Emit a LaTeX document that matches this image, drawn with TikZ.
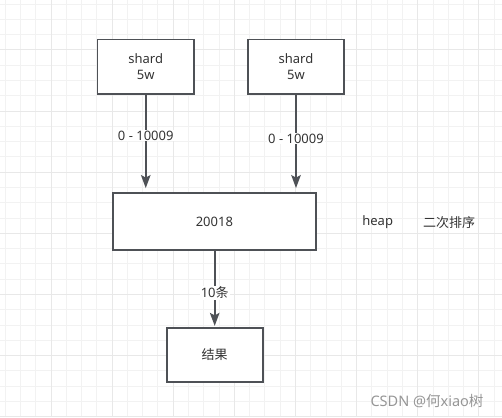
\documentclass[tikz,border=0pt]{standalone}
\usepackage{fontspec}
\setmainfont{Noto Sans}
\newfontfamily\cjk{Noto Sans CJK SC}
\usetikzlibrary{arrows.meta}
\definecolor{edgecol}{RGB}{78,81,86}
\definecolor{txtcol}{RGB}{51,51,51}
\definecolor{gridminor}{RGB}{242,242,242}
\definecolor{gridmajor}{RGB}{232,232,232}
\definecolor{wmcol}{RGB}{150,150,150}
\tikzset{
  box/.style={draw=edgecol, line width=1.8pt, fill=white, rectangle, inner sep=0pt,
    text=txtcol, font=\fontsize{13}{16}\selectfont, align=center},
  arr/.style={draw=edgecol, line width=1.8pt, -{Stealth[length=13pt,width=9.5pt,inset=2.5pt]}},
  lbl/.style={fill=white, text=txtcol, font=\fontsize{13}{16}\selectfont, inner sep=1pt},
  plain/.style={text=txtcol, font=\fontsize{13}{16}\selectfont, inner sep=0pt},
}
\begin{document}
\begin{tikzpicture}[x=1pt,y=-1pt]
\useasboundingbox (0,0) rectangle (502,417);
\fill[white] (0,0) rectangle (502,417);
% grid
\foreach \i in {0,...,32} {
  \draw[gridminor, line width=1pt] ({5.16+15.28*\i},0) -- ({5.16+15.28*\i},417);
}
\foreach \i in {0,...,27} {
  \draw[gridminor, line width=1pt] (0,{4.16+15.28*\i}) -- (502,{4.16+15.28*\i});
}
\foreach \i in {0,...,7} {
  \draw[gridmajor, line width=1pt] ({51+61.1*\i},0) -- ({51+61.1*\i},417);
}
\foreach \i in {0,...,6} {
  \draw[gridmajor, line width=1pt] (0,{50+61.1*\i}) -- (502,{50+61.1*\i});
}
% nodes
\node[box, minimum width=96.5pt, minimum height=54.5pt] (s1) at (145.75,66.75) {shard\\5w};
\node[box, minimum width=96.5pt, minimum height=54.5pt] (s2) at (296,66.75) {shard\\5w};
\node[box, minimum width=203.3pt, minimum height=57.3pt] (big) at (214.35,221.35) {20018};
\node[box, minimum width=96pt, minimum height=54pt] (res) at (214.7,354.8) {\cjk 结果};
\node[plain] (heap) at (377.7,222.5) {heap};
\node[plain] (sort) at (449,222.5) {\cjk 二次排序};
% connectors
\draw[arr, shorten >=3.7pt] (s1.south) -- (s1.south |- big.north)
  node[lbl, pos=0.42] (l1) {0 - 10009};
\draw[arr, shorten >=3.7pt] (s2.south) -- (s2.south |- big.north)
  node[lbl, pos=0.45] (l2) {0 - 10009};
\draw[arr, shorten >=1pt] (res.north |- big.south) -- (res.north)
  node[lbl, pos=0.55] (l3) {10{\cjk 条}};
% watermark
\node[text=wmcol, font=\fontsize{14.5}{17}\selectfont, inner sep=0pt] (wm) at (427,401.5) {CSDN @{\cjk 何}xiao{\cjk 树}};
\end{tikzpicture}
\end{document}
